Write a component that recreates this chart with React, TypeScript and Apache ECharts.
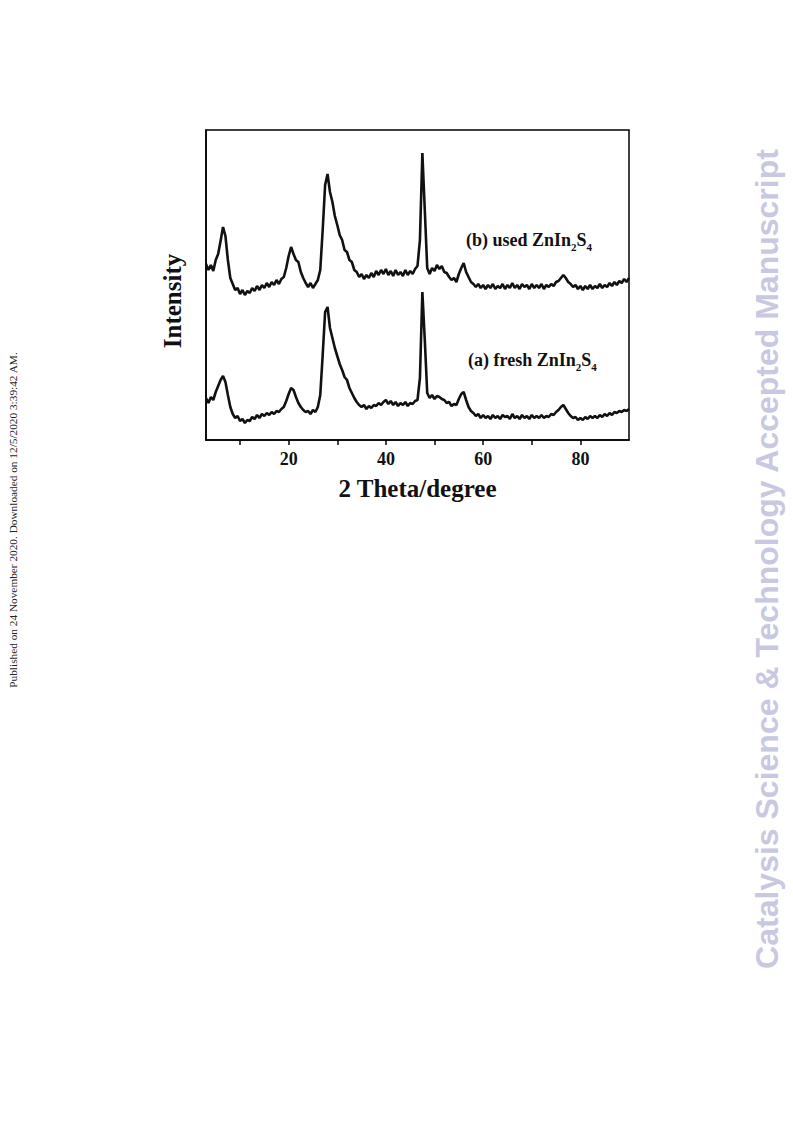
import React, { useEffect, useRef } from "react";
import * as echarts from "echarts";

// Sampling grid of the diffractograms (2θ, degrees)
const thetaStart = 3;
const thetaStep = 0.5;

// (b) used ZnIn2S4 — intensity (a.u.)
const usedIntensity = [
  176, 170, 175, 169, 180, 186, 199, 213, 204, 180, 162, 156, 150, 152, 146, 150, 145, 149, 147, 152,
  149, 154, 150, 155, 152, 157, 153, 158, 155, 160, 156, 161, 163, 172, 184, 193, 186, 180, 178, 168,
  162, 157, 153, 157, 152, 156, 160, 170, 210, 255, 266, 248, 238, 224, 215, 205, 200, 190, 188, 180,
  178, 170, 168, 163, 166, 161, 165, 162, 167, 163, 169, 165, 170, 166, 171, 165, 169, 164, 170, 165,
  168, 164, 170, 165, 169, 166, 171, 174, 200, 287, 230, 172, 166, 172, 169, 175, 171, 174, 168, 167,
  163, 160, 162, 158, 166, 172, 177, 168, 163, 158, 156, 153, 156, 152, 155, 151, 155, 152, 156, 151,
  154, 152, 156, 151, 155, 152, 157, 152, 155, 151, 156, 153, 155, 151, 156, 152, 155, 152, 156, 151,
  155, 153, 156, 154, 158, 159, 162, 165, 162, 158, 156, 153, 155, 151, 154, 150, 154, 151, 155, 151,
  154, 152, 156, 152, 155, 153, 157, 154, 158, 155, 159, 157, 161, 158, 162,
];

// (a) fresh ZnIn2S4 — intensity (a.u.)
const freshIntensity = [
  42, 37, 43, 40, 48, 54, 60, 64, 58, 45, 33, 26, 22, 24, 19, 21, 17, 20, 19, 23,
  21, 25, 22, 26, 24, 27, 25, 28, 26, 29, 28, 31, 33, 39, 46, 52, 50, 43, 37, 33,
  30, 28, 29, 26, 30, 28, 33, 45, 85, 128, 133, 112, 102, 92, 84, 76, 70, 63, 60, 52,
  47, 42, 38, 35, 33, 35, 31, 34, 32, 35, 34, 37, 35, 38, 40, 36, 39, 35, 38, 34,
  37, 35, 38, 34, 37, 36, 39, 40, 62, 148, 100, 47, 42, 45, 41, 44, 43, 41, 40, 37,
  38, 34, 36, 35, 41, 46, 48, 40, 33, 29, 27, 24, 26, 22, 25, 22, 24, 21, 25, 22,
  24, 21, 25, 23, 24, 21, 26, 22, 24, 21, 25, 22, 24, 21, 25, 22, 24, 22, 25, 22,
  24, 23, 26, 25, 28, 30, 33, 35, 31, 27, 24, 22, 23, 20, 22, 20, 23, 21, 24, 22,
  24, 22, 25, 23, 26, 24, 27, 25, 28, 27, 29, 28, 30, 29, 31,
];

const xTickValues = [10, 20, 30, 40, 50, 60, 70, 80];
const xLabelValues = [20, 40, 60, 80];
const xMin = 3;
const xMax = 90;

const labelUsed = ["(b) used ZnIn", "2", "S", "4"];
const labelFresh = ["(a) fresh ZnIn", "2", "S", "4"];
const sideLeft = "Published on 24 November 2020. Downloaded on 12/5/2020 3:39:42 AM.";
const sideRight = "Catalysis Science & Technology Accepted Manuscript";

function toPairs(values: number[]) {
  return values.map((v, i) => [thetaStart + i * thetaStep, v]);
}

function richLabel(parts: string[]) {
  return `{m|${parts[0]}}{s|${parts[1]}}{m|${parts[2]}}{s|${parts[3]}}`;
}

export default function App() {
  const ref = useRef<HTMLDivElement>(null);
  useEffect(() => {
    if (!ref.current) return;
    const chart = echarts.init(ref.current, undefined, { renderer: "svg" });
    const serif = "Liberation Serif, Times New Roman, serif";
    const rich = {
      m: { fontFamily: serif, fontWeight: "bold", fontSize: 18, fill: "#111", lineHeight: 24 },
      s: { fontFamily: serif, fontWeight: "bold", fontSize: 11, fill: "#111", lineHeight: 24, verticalAlign: "bottom", padding: [12, 0, 0, 0] },
    };
    chart.setOption({
      animation: false,
      backgroundColor: "#fff",
      grid: {
        left: 206,
        right: 164,
        top: 130,
        bottom: 681,
        show: true,
        borderColor: "#000",
        borderWidth: 1.5,
      },
      xAxis: {
        type: "value",
        min: xMin,
        max: xMax,
        axisLine: { show: true, lineStyle: { color: "#000", width: 1.5 } },
        axisTick: { show: true, inside: false, length: 5, customValues: xTickValues, lineStyle: { color: "#000", width: 1.5 } },
        axisLabel: {
          customValues: xLabelValues,
          margin: 10,
          color: "#111",
          fontFamily: serif,
          fontWeight: "bold",
          fontSize: 18,
        },
        splitLine: { show: false },
        name: "2 Theta/degree",
        nameLocation: "middle",
        nameGap: 36,
        nameTextStyle: { color: "#111", fontFamily: serif, fontWeight: "bold", fontSize: 25 },
      },
      yAxis: {
        type: "value",
        min: 0,
        max: 310,
        axisLine: { show: true, lineStyle: { color: "#000", width: 1.5 } },
        axisTick: { show: false },
        axisLabel: { show: false },
        splitLine: { show: false },
      },
      series: [
        {
          type: "line",
          name: "used",
          data: toPairs(usedIntensity),
          showSymbol: false,
          lineStyle: { color: "#111", width: 2.6 },
        },
        {
          type: "line",
          name: "fresh",
          data: toPairs(freshIntensity),
          showSymbol: false,
          lineStyle: { color: "#111", width: 2.6 },
        },
      ],
      graphic: [
        {
          type: "text",
          x: 466,
          y: 228,
          style: { text: richLabel(labelUsed), rich },
        },
        {
          type: "text",
          x: 468,
          y: 348,
          style: { text: richLabel(labelFresh), rich },
        },
        {
          type: "text",
          x: 172,
          y: 301,
          rotation: Math.PI / 2,
          style: {
            text: "Intensity",
            fontFamily: serif,
            fontWeight: "bold",
            fontSize: 25,
            fill: "#111",
            align: "center",
            verticalAlign: "middle",
          },
        },
        {
          type: "text",
          x: 13,
          y: 520,
          rotation: Math.PI / 2,
          style: {
            text: sideLeft,
            fontFamily: serif,
            fontSize: 11.3,
            fill: "#222",
            align: "center",
            verticalAlign: "middle",
          },
        },
        {
          type: "text",
          x: 767,
          y: 559,
          rotation: Math.PI / 2,
          style: {
            text: sideRight,
            fontFamily: "Liberation Sans, Arial, sans-serif",
            fontWeight: "bold",
            fontSize: 32,
            fill: "#c8c8e2",
            align: "center",
            verticalAlign: "middle",
          },
        },
      ],
    });
    return () => chart.dispose();
  }, []);
  return (
    <div
      ref={ref}
      style={{ position: "fixed", left: 0, top: 0, width: 793, height: 1121, background: "#fff" }}
    />
  );
}
